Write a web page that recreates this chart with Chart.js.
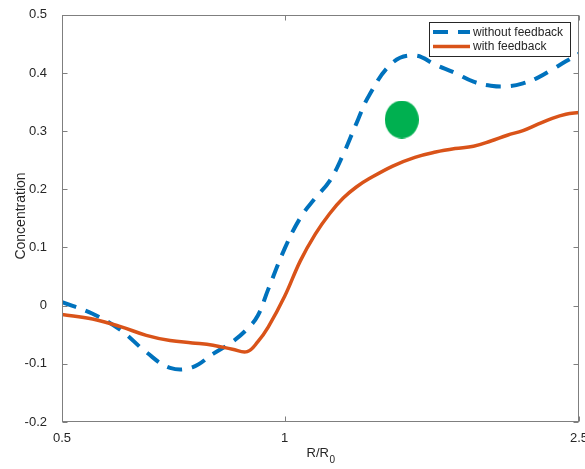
<!DOCTYPE html>
<html>
<head>
<meta charset="utf-8">
<script src="https://cdn.jsdelivr.net/npm/chart.js@4.4.1/dist/chart.umd.min.js"></script>
<style>
    html, body { margin: 0; padding: 0; background: #ffffff; }
    #wrap { width: 585px; height: 469px; }
</style>
</head>
<body>
<div id="wrap"><canvas id="conc-chart" width="585" height="469"></canvas></div>
<script>
// Radial position R/R0 and the two concentration profiles
const radius = [0.5, 0.55, 0.6, 0.65, 0.7, 0.75, 0.8, 0.85, 0.89, 0.92, 0.95,
    1.0, 1.05, 1.1, 1.15, 1.2, 1.25, 1.3, 1.4, 1.5, 1.6,
    1.7, 1.8, 1.9, 2.0, 2.1, 2.2, 2.3, 2.4, 2.5];
const withoutFeedback = [0.006, -0.014, -0.042, -0.080, -0.107, -0.106, -0.083, -0.062, -0.040, -0.017, 0.028,
    0.098, 0.151, 0.185, 0.214, 0.260, 0.313, 0.361, 0.418, 0.430, 0.414,
    0.400, 0.385, 0.378, 0.377, 0.382, 0.392, 0.406, 0.420, 0.433];
const withFeedback = [-0.015, -0.023, -0.036, -0.051, -0.060, -0.064, -0.068, -0.075, -0.079, -0.062, -0.037,
    0.016, 0.077, 0.123, 0.158, 0.185, 0.204, 0.218, 0.240, 0.255, 0.264,
    0.270, 0.274, 0.283, 0.293, 0.301, 0.312, 0.322, 0.329, 0.332];

// Marker position
const markerX = [1.44];
const markerY = [0.32];

// Axis ticks
const xTicks = [0.5, 1, 2.5];
const xTickLabels = ['0.5', '1', '2.5'];
const yTicks = [-0.2, -0.1, 0, 0.1, 0.2, 0.3, 0.4, 0.5];
const yTickLabels = ['-0.2', '-0.1', '0', '0.1', '0.2', '0.3', '0.4', '0.5'];

const FONT = "'Liberation Sans', Arial, Helvetica, sans-serif";
const TEXT_COLOR = '#262626';
const AXIS_COLOR = '#7f7f7f';

// Green ellipse used as the marker's point style
function makeEllipse(w, h, color) {
    const c = document.createElement('canvas');
    c.width = w;
    c.height = h;
    const g = c.getContext('2d');
    g.fillStyle = color;
    g.beginPath();
    g.ellipse(w / 2, h / 2, w / 2, h / 2, 0, 0, Math.PI * 2);
    g.fill();
    return c;
}

// Box around the plot, inward ticks, axis titles and legend
const framePlugin = {
    id: 'frame',
    afterDraw(chart) {
        const ctx = chart.ctx;
        const area = chart.chartArea;
        const xs = chart.scales.x;
        const ys = chart.scales.y;
        const tick = 5;

        ctx.save();
        ctx.strokeStyle = AXIS_COLOR;
        ctx.lineWidth = 1;
        const L = Math.round(area.left) + 0.5;
        const R = Math.round(area.right) - 0.5;
        const T = Math.round(area.top) + 0.5;
        const B = Math.round(area.bottom) - 0.5;
        ctx.strokeRect(L, T, R - L, B - T);

        ctx.beginPath();
        yTicks.forEach(v => {
            const y = Math.round(ys.getPixelForValue(v)) + 0.5;
            ctx.moveTo(L, y); ctx.lineTo(L + tick, y);
            ctx.moveTo(R, y); ctx.lineTo(R - tick, y);
        });
        xTicks.forEach(v => {
            const x = Math.round(xs.getPixelForValue(v)) + 0.5;
            ctx.moveTo(x, B); ctx.lineTo(x, B - tick);
            ctx.moveTo(x, T); ctx.lineTo(x, T + tick);
        });
        ctx.stroke();

        // Axis titles
        ctx.fillStyle = TEXT_COLOR;
        ctx.font = '14px ' + FONT;
        ctx.textBaseline = 'middle';
        ctx.textAlign = 'center';
        ctx.save();
        ctx.translate(21, 216);
        ctx.rotate(-Math.PI / 2);
        ctx.fillText('Concentration', 0, 0);
        ctx.restore();

        ctx.textAlign = 'left';
        ctx.textBaseline = 'alphabetic';
        const main = 'R/R';
        const sub = '0';
        ctx.font = '13px ' + FONT;
        const wMain = ctx.measureText(main).width;
        ctx.font = '10px ' + FONT;
        const wSub = ctx.measureText(sub).width;
        const x0 = (area.left + area.right) / 2 - (wMain + wSub) / 2;
        ctx.font = '13px ' + FONT;
        ctx.fillText(main, x0, 457);
        ctx.font = '10px ' + FONT;
        ctx.fillText(sub, x0 + wMain + 0.5, 463);

        // Legend
        const box = { x: 429.5, y: 22.5, w: 141, h: 34 };
        ctx.fillStyle = '#ffffff';
        ctx.fillRect(box.x, box.y, box.w, box.h);
        ctx.strokeStyle = '#262626';
        ctx.lineWidth = 1;
        ctx.strokeRect(box.x, box.y, box.w, box.h);

        const rows = [32, 46.5];
        chart.data.datasets.slice(0, 2).forEach((ds, i) => {
            const y = rows[i];
            ctx.save();
            ctx.strokeStyle = ds.borderColor;
            ctx.lineWidth = ds.borderWidth;
            ctx.setLineDash(ds.borderDash || []);
            ctx.beginPath();
            ctx.moveTo(433, y);
            ctx.lineTo(470, y);
            ctx.stroke();
            ctx.restore();

            ctx.fillStyle = TEXT_COLOR;
            ctx.font = '12px ' + FONT;
            ctx.textBaseline = 'middle';
            ctx.fillText(ds.label, 473, y + 0.5);
        });
        ctx.restore();
    }
};

const points = (xs, ys) => xs.map((x, i) => ({ x: x, y: ys[i] }));

new Chart(document.getElementById('conc-chart'), {
    type: 'line',
    data: {
        datasets: [
            {
                label: 'without feedback',
                data: points(radius, withoutFeedback),
                borderColor: '#0072bd',
                borderWidth: 4,
                borderDash: [15, 10],
                borderCapStyle: 'butt',
                tension: 0.4,
                pointRadius: 0,
                fill: false,
                order: 2
            },
            {
                label: 'with feedback',
                data: points(radius, withFeedback),
                borderColor: '#d95319',
                borderWidth: 3.5,
                tension: 0.4,
                pointRadius: 0,
                fill: false,
                order: 1
            },
            {
                label: 'marker',
                type: 'scatter',
                data: points(markerX, markerY),
                pointStyle: makeEllipse(34, 38, '#00b050'),
                showLine: false,
                order: 0
            }
        ]
    },
    options: {
        responsive: false,
        animation: false,
        events: [],
        layout: {
            padding: { top: 13, right: 6, left: 0, bottom: 0 }
        },
        plugins: {
            legend: { display: false },
            tooltip: { enabled: false }
        },
        scales: {
            x: {
                type: 'logarithmic',
                min: 0.5,
                max: 2.5,
                grid: { display: false },
                border: { display: false },
                afterBuildTicks: scale => {
                    scale.ticks = xTicks.map(v => ({ value: v }));
                },
                afterFit: scale => {
                    scale.height = 47;
                    scale.paddingLeft = 0;
                    scale.paddingRight = 0;
                },
                ticks: {
                    autoSkip: false,
                    maxRotation: 0,
                    padding: 1,
                    color: TEXT_COLOR,
                    font: { family: FONT, size: 13 },
                    callback: (value, index) => xTickLabels[index]
                }
            },
            y: {
                type: 'linear',
                min: -0.2,
                max: 0.5,
                grid: { display: false },
                border: { display: false },
                afterBuildTicks: scale => {
                    scale.ticks = yTicks.map(v => ({ value: v }));
                },
                afterFit: scale => {
                    scale.width = 62;
                },
                ticks: {
                    autoSkip: false,
                    padding: 7,
                    color: TEXT_COLOR,
                    font: { family: FONT, size: 13 },
                    callback: (value, index) => yTickLabels[index]
                }
            }
        }
    },
    plugins: [framePlugin]
});
</script>
</body>
</html>
